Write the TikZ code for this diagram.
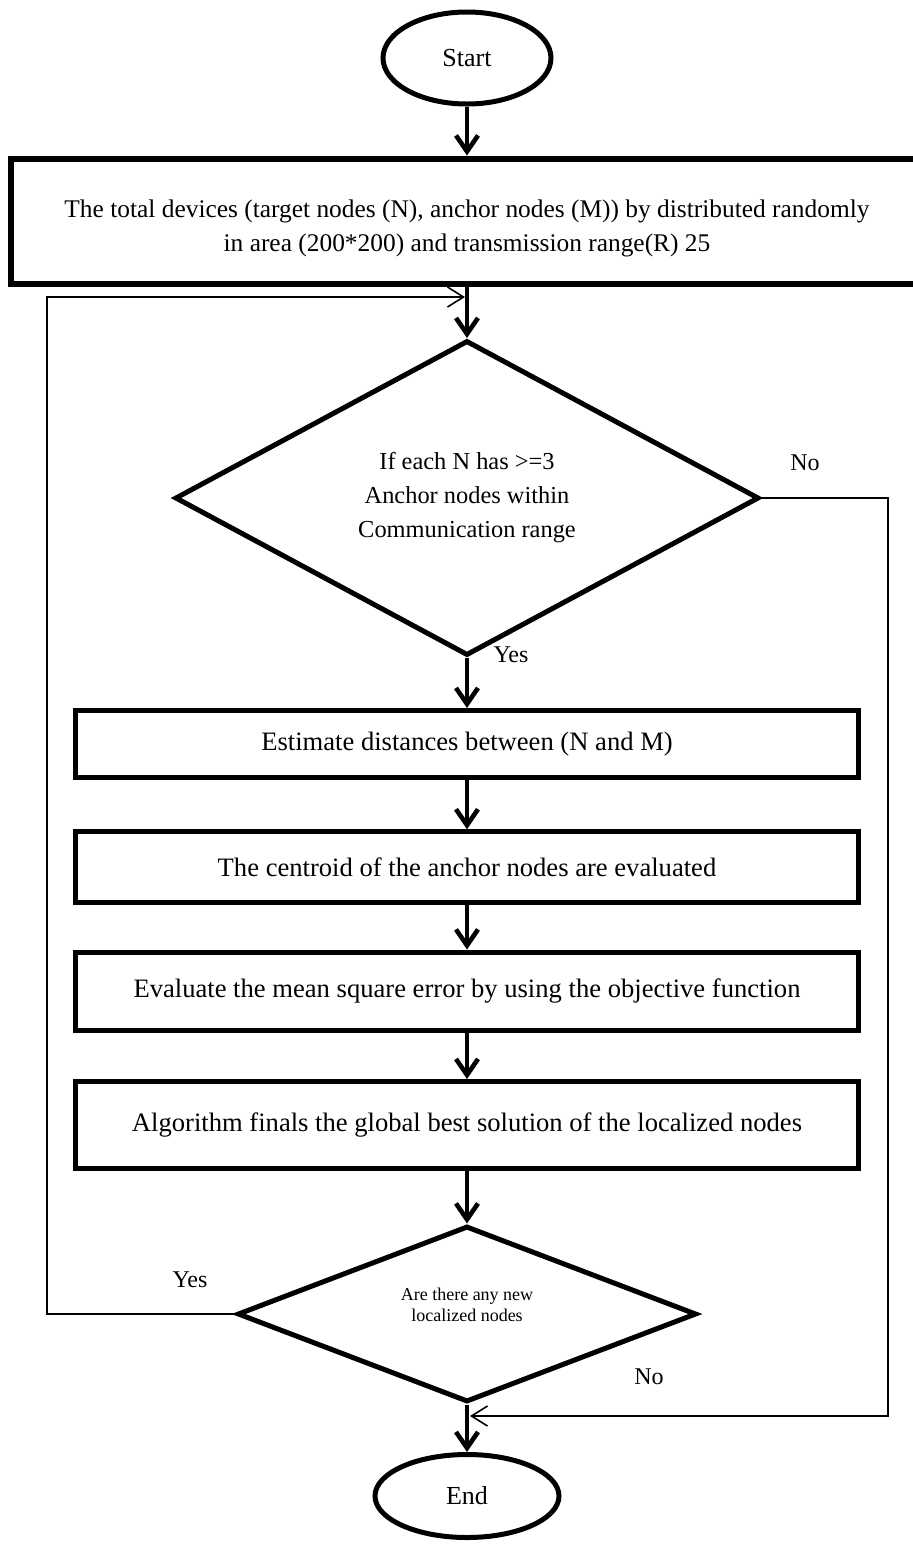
\documentclass[tikz,border=0pt]{standalone}
\usepackage{fontspec}
\setmainfont{Liberation Serif}
\usetikzlibrary{shapes.geometric,arrows.meta,positioning}

\begin{document}
\begin{tikzpicture}[
x=0.5pt,
y=-0.5pt,
box/.style={
  draw,
  rectangle,
  line width=2.5pt,
  inner sep=0pt,
  align=center,
  font=\fontsize{13.3}{17}\selectfont
  },
term/.style={
  draw,
  ellipse,
  line width=2.5pt,
  inner sep=0pt,
  font=\fontsize{13}{15}\selectfont
  },
ask/.style={
  draw,
  diamond,
  line width=2.5pt,
  inner sep=0pt,
  align=center
  },
flow/.style={
  line width=2.3pt,
  -{Straight Barb[length=8pt,width=11pt]}
  },
back/.style={
  line width=0.8pt,
  -{Straight Barb[length=8pt,width=10pt]}
  },
tag/.style={
  inner sep=0pt,
  font=\fontsize{12}{14}\selectfont
  }
]
\useasboundingbox (0,0) rectangle (913,1549);

\node[term, minimum width=84pt, minimum height=46pt] at (467,58)
  (start) {Start};

\node[box, line width=3pt, minimum width=456pt, minimum height=62.5pt,
  font=\fontsize{12.7}{17}\selectfont, text height=33pt] at (467,221)
  (box) {The total devices (target nodes (N), anchor nodes (M)) by distributed randomly\\
  in area (200*200) and transmission range(R) 25};

\node[ask, aspect=1.85, minimum width=292pt, minimum height=157.5pt,
  font=\fontsize{12.2}{17}\selectfont] at (467,498)
  (check) {If each N has >=3\\Anchor nodes within\\Communication range};

\node[box, minimum width=391.5pt, minimum height=33.5pt] at (467,744)
  (est) {Estimate distances between (N and M)};

\node[box, minimum width=391.5pt, minimum height=35.25pt] at (467,867)
  (cent) {The centroid of the anchor nodes are evaluated};

\node[box, minimum width=391.5pt, minimum height=39pt] at (467,991)
  (mse) {Evaluate the mean square error by using the objective function};

\node[box, minimum width=391.5pt, minimum height=43.5pt] at (467,1125)
  (best) {Algorithm finals the global best solution of the localized nodes};

\node[ask, aspect=2.6, minimum width=229.5pt, minimum height=88pt,
  font=\fontsize{9}{10.5}\selectfont, text depth=9pt] at (467,1314)
  (newq) {Are there any new\\localized nodes};

\node[term, minimum width=92pt, minimum height=41.5pt] at (467,1496)
  (finish) {End};

\node[tag] at (805,463) (noa) {No};
\node[tag] at (511,655) (yesa) {Yes};
\node[tag] at (190,1280) (yesb) {Yes};
\node[tag] at (649,1377) (nob) {No};

\foreach \a/\b in {start/box,box/check,check/est,est/cent,cent/mse,mse/best,best/newq,newq/finish}
{\draw[flow] (\a) -- (\b);
}

\coordinate (loopin) at (465,297);
\coordinate (yescorner) at (47,297);
\coordinate (loopout) at (470,1416);
\coordinate (nocorner) at (888,1416);

\draw[back] (newq.west) -| (yescorner) -- (loopin);
\draw[back] (check.east) -| (nocorner) -- (loopout);
\end{tikzpicture}
\end{document}
